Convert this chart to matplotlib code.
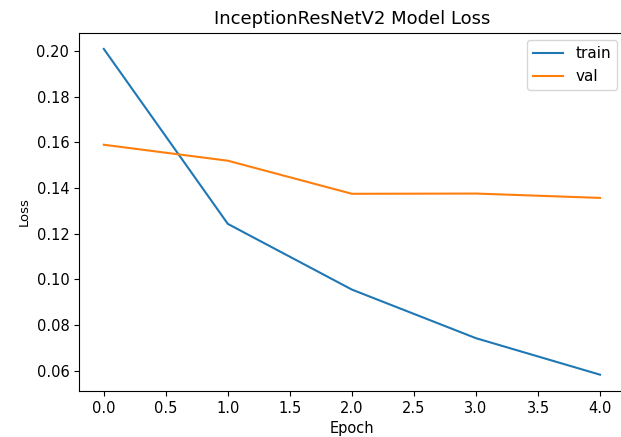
import matplotlib
matplotlib.use('Agg')
import matplotlib.pyplot as plt

# values
epochs     = [0, 1, 2, 3, 4]
train_loss = [0.201, 0.1243, 0.0955, 0.0742, 0.0582]
val_loss   = [0.1590, 0.1520, 0.1375, 0.1376, 0.1357]

fig = plt.figure(figsize=(6.21, 4.37), dpi=100)
# right spine sits just past the image edge in the reference
ax = fig.add_axes([0.1272, 0.1053, 0.879, 0.820])

ax.plot(epochs, train_loss, label='train')
ax.plot(epochs, val_loss, label='val')

ax.set_title('InceptionResNetV2 Model Loss', fontsize=13)
ax.set_xlabel('Epoch', fontsize=10.5)
ax.set_ylabel('Loss', fontsize=9.5)
ax.tick_params(labelsize=10.5)
ax.legend(loc='upper right', fontsize=11)

fig.savefig('out.png', dpi=100)
